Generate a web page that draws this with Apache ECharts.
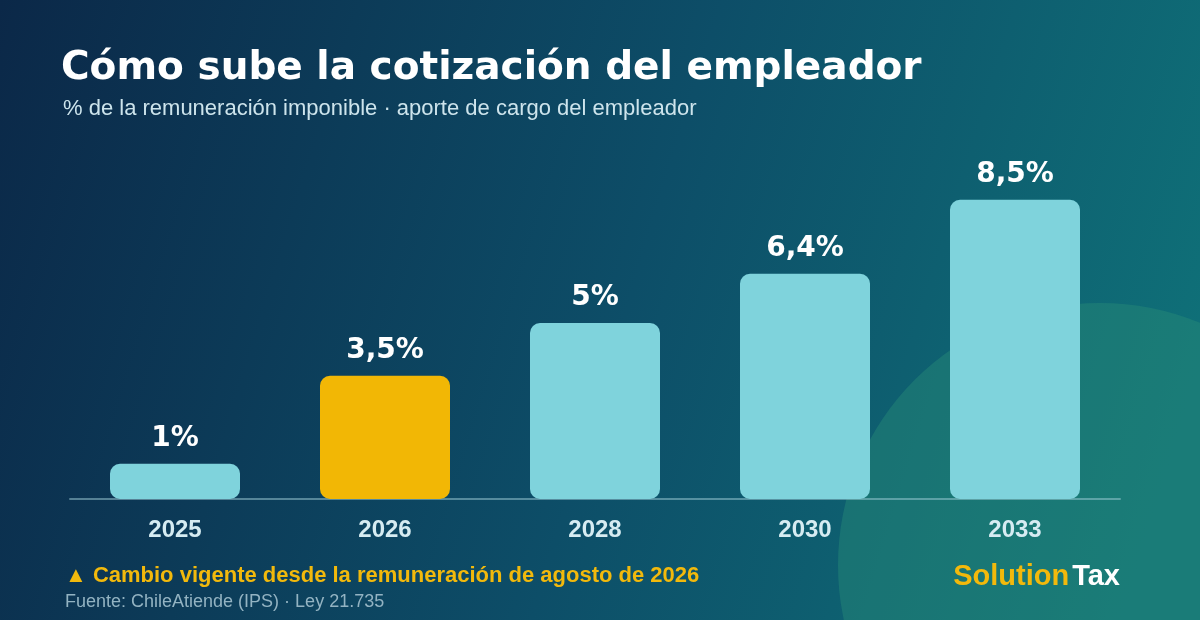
<!DOCTYPE html>
<html>
<head>
<meta charset="utf-8">
<style>
  html, body { margin: 0; padding: 0; }
  #chart { width: 1200px; height: 620px; }
</style>
<script src="https://cdn.jsdelivr.net/npm/echarts@6/dist/echarts.min.js"></script>
</head>
<body>
<div id="chart"></div>
<script>
// datos
const years = ['2025', '2026', '2028', '2030', '2033']
const rates = [1, 3.5, 5, 6.4, 8.5]
const highlightYear = '2026'

const sans = '"Liberation Sans", Arial, sans-serif'
const heavy = '"DejaVu Sans", sans-serif'

const chart = echarts.init(document.getElementById('chart'))

chart.setOption({
  backgroundColor: new echarts.graphic.LinearGradient(0, 0, 1, 0.6, [
    { offset: 0, color: '#0b2848' },
    { offset: 0.55, color: '#0d4e68' },
    { offset: 1, color: '#0f7078' }
  ]),
  textStyle: { fontFamily: sans },
  graphic: [
    {
      type: 'circle',
      z: -1,
      shape: { cx: 1100, cy: 565, r: 262 },
      style: { fill: 'rgba(40,140,120,0.45)' }
    },
    {
      type: 'text',
      right: 80,
      top: 562,
      style: {
        text: '{a|Solution}{b|Tax}',
        rich: {
          a: { fontSize: 29, fontWeight: 'bold', fill: '#f2b90c', fontFamily: sans, padding: [0, 3, 0, 0] },
          b: { fontSize: 29, fontWeight: 'bold', fill: '#ffffff', fontFamily: sans }
        }
      }
    }
  ],
  title: [
    {
      text: 'Cómo sube la cotización del empleador',
      left: 56,
      top: 44,
      textStyle: { color: '#ffffff', fontSize: 39, fontWeight: 'bold', fontFamily: heavy }
    },
    {
      text: '% de la remuneración imponible · aporte de cargo del empleador',
      left: 58,
      top: 93,
      textStyle: { color: '#cde4ec', fontSize: 22, fontWeight: 'normal', fontFamily: sans }
    },
    {
      text: '▲ Cambio vigente desde la remuneración de agosto de 2026',
      left: 60,
      top: 560,
      textStyle: { color: '#f2b90c', fontSize: 22, fontWeight: 'bold', fontFamily: sans }
    },
    {
      text: 'Fuente: ChileAtiende (IPS) · Ley 21.735',
      left: 60,
      top: 588,
      textStyle: { color: '#93b3c2', fontSize: 18, fontWeight: 'normal', fontFamily: sans }
    }
  ],
  grid: {
    left: 70,
    right: 80,
    top: 147,
    bottom: 121
  },
  xAxis: {
    type: 'category',
    data: years,
    axisLine: { lineStyle: { color: 'rgba(160,205,215,0.5)', width: 2 } },
    axisTick: { show: false },
    axisLabel: {
      color: '#d6ecf2',
      fontSize: 24,
      fontWeight: 'bold',
      fontFamily: sans,
      margin: 19
    }
  },
  yAxis: {
    type: 'value',
    min: 0,
    max: 10,
    show: false
  },
  series: [
    {
      type: 'bar',
      barWidth: 130,
      data: rates.map((v, i) => ({
        value: v,
        itemStyle: {
          color: years[i] === highlightYear ? '#f2b705' : '#7fd3dc',
          borderRadius: 10
        }
      })),
      label: {
        show: true,
        position: 'top',
        distance: 11,
        color: '#ffffff',
        fontSize: 28,
        fontWeight: 'bold',
        fontFamily: heavy,
        formatter: p => String(p.value).replace('.', ',') + '%'
      }
    }
  ]
})
</script>
</body>
</html>
